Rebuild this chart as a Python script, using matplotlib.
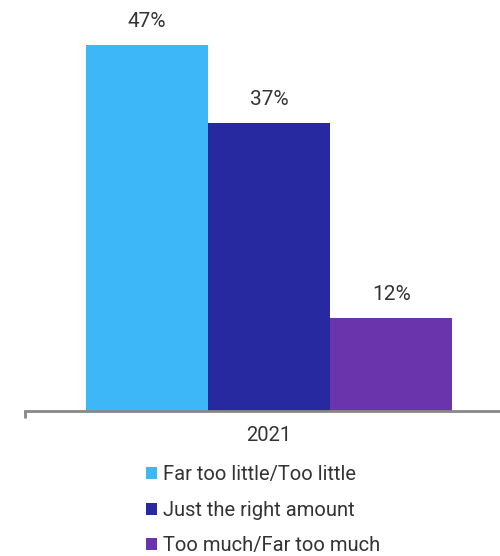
import matplotlib.pyplot as plt

plt.rcParams['font.family'] = ['Roboto', 'DejaVu Sans']

year = '2021'
answers = ['Far too little/Too little', 'Just the right amount', 'Too much/Far too much']
shares = [47, 37, 12]
colors = ['#3DB7F7', '#2629A0', '#6A35AC']

fig = plt.figure(figsize=(5, 5.56), dpi=100)
ax = fig.add_axes([0.05, 0.2608, 0.95, 0.7392])

positions = [-1, 0, 1]
bars = []
for pos, label, val, col in zip(positions, answers, shares, colors):
    b = ax.bar(pos, val, width=1.0, color=col, label=label)
    bars.append(b)
    ax.text(pos, val + 3.0, f'{val}%', ha='center', va='center',
            fontsize=15, color='#333333')

ax.set_xlim(-2.0, 1.89)
ax.set_ylim(0, 52.76)
ax.set_yticks([])
ax.set_xticks([0])
ax.set_xticklabels([year], fontsize=14.5, color='#333333')
ax.tick_params(axis='x', length=0, pad=11)
for s in ['top', 'right', 'left']:
    ax.spines[s].set_visible(False)
ax.spines['bottom'].set_color('#888888')
ax.spines['bottom'].set_linewidth(2)
# small end tick at the left of the axis line
ax.plot([-2.0, -2.0], [0, -0.9], color='#888888', lw=2, clip_on=False,
        solid_capstyle='butt')

fig.legend(handles=[b[0] for b in bars], labels=answers,
           loc='upper left', bbox_to_anchor=(0.275, 0.1775),
           frameon=False, fontsize=14.5, handlelength=0.55, handleheight=0.55,
           handletextpad=0.3, labelspacing=0.82, borderaxespad=0,
           labelcolor='#333333')

fig.savefig('out.png', dpi=100)
